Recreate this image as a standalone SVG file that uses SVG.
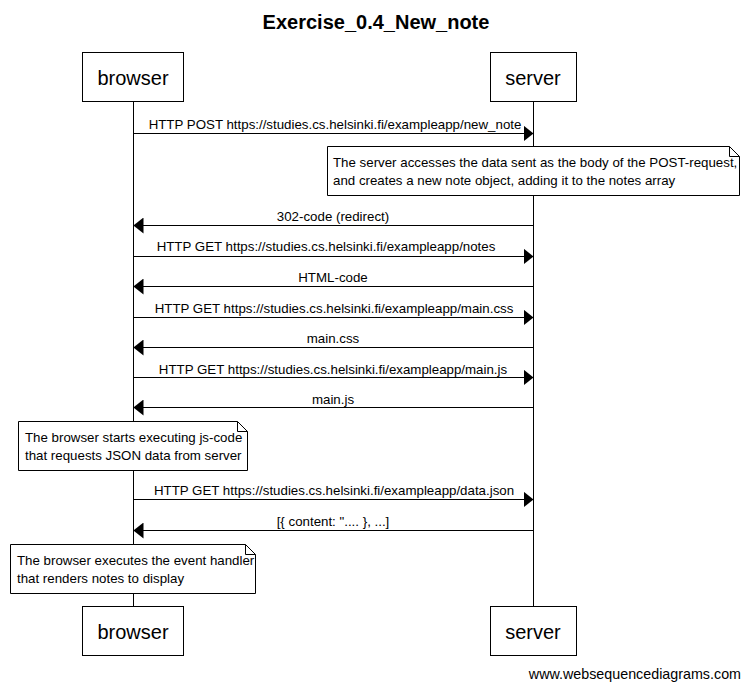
<svg xmlns="http://www.w3.org/2000/svg" width="749" height="689" viewBox="0 0 749 689">
<style>
text{font-family:"Liberation Sans",Arial,sans-serif;fill:#000}
.title{font-size:20px;font-weight:bold;text-anchor:middle}
.actor{font-size:20px;text-anchor:middle}
.lbl{font-size:13.3px;text-anchor:middle}
.note{font-size:13.3px}
.box{fill:#fff;stroke:#000;stroke-width:1}
.life{stroke:#000;stroke-width:1}
.msg{stroke:#000;stroke-width:1;fill:none}
.wm{font-size:14.3px;text-anchor:end}
</style>
<defs>
<marker id="ah" markerWidth="10" markerHeight="16" refX="10" refY="8" orient="auto" markerUnits="userSpaceOnUse">
<path d="M0,0 L10,8 L0,16 Z" fill="#000"/>
</marker>
</defs>
<rect width="749" height="689" fill="#fff"/>
<text class="title" x="376" y="29">Exercise_0.4_New_note</text>

<g id="lifelines">
<line class="life" x1="133.5" y1="102" x2="133.5" y2="606"/>
<line class="life" x1="533.5" y1="102" x2="533.5" y2="606"/>
</g>

<g id="browser-top"><rect class="box" x="82.5" y="52.5" width="101" height="49"/><text class="actor" x="133" y="85">browser</text></g>
<g id="server-top"><rect class="box" x="490.5" y="52.5" width="86" height="49"/><text class="actor" x="533" y="85">server</text></g>
<g id="browser-bottom"><rect class="box" x="82.5" y="606.5" width="101" height="49"/><text class="actor" x="133" y="639">browser</text></g>
<g id="server-bottom"><rect class="box" x="490.5" y="606.5" width="86" height="49"/><text class="actor" x="533" y="639">server</text></g>

<g id="connectors">
<line class="msg" x1="133.5" y1="133.5" x2="533.5" y2="133.5" marker-end="url(#ah)"/>
<text class="lbl" x="335" y="129">HTTP POST https://studies.cs.helsinki.fi/exampleapp/new_note</text>
<line class="msg" x1="533.5" y1="225.5" x2="133.5" y2="225.5" marker-end="url(#ah)"/>
<text class="lbl" x="333" y="221">302-code (redirect)</text>
<line class="msg" x1="133.5" y1="256.5" x2="533.5" y2="256.5" marker-end="url(#ah)"/>
<text class="lbl" x="326" y="251">HTTP GET https://studies.cs.helsinki.fi/exampleapp/notes</text>
<line class="msg" x1="533.5" y1="286.5" x2="133.5" y2="286.5" marker-end="url(#ah)"/>
<text class="lbl" x="333" y="282">HTML-code</text>
<line class="msg" x1="133.5" y1="317.5" x2="533.5" y2="317.5" marker-end="url(#ah)"/>
<text class="lbl" x="334" y="313">HTTP GET https://studies.cs.helsinki.fi/exampleapp/main.css</text>
<line class="msg" x1="533.5" y1="347.5" x2="133.5" y2="347.5" marker-end="url(#ah)"/>
<text class="lbl" x="333" y="343">main.css</text>
<line class="msg" x1="133.5" y1="377.5" x2="533.5" y2="377.5" marker-end="url(#ah)"/>
<text class="lbl" x="333" y="374">HTTP GET https://studies.cs.helsinki.fi/exampleapp/main.js</text>
<line class="msg" x1="533.5" y1="407.5" x2="133.5" y2="407.5" marker-end="url(#ah)"/>
<text class="lbl" x="333" y="404">main.js</text>
<line class="msg" x1="133.5" y1="499.5" x2="533.5" y2="499.5" marker-end="url(#ah)"/>
<text class="lbl" x="334" y="495">HTTP GET https://studies.cs.helsinki.fi/exampleapp/data.json</text>
<line class="msg" x1="533.5" y1="530.5" x2="133.5" y2="530.5" marker-end="url(#ah)"/>
<text class="lbl" x="333" y="526">[{ content: ".... }, ...]</text>
</g>

<g id="note-server">
<path class="box" d="M327.5,146.5 H729.5 L739.5,156.5 V195.5 H327.5 Z"/>
<path class="msg" d="M729.5,146.5 V156.5 H739.5"/>
<text class="note" x="333" y="167">The server accesses the data sent as the body of the POST-request,</text>
<text class="note" x="333" y="185">and creates a new note object, adding it to the notes array</text>
</g>

<g id="note-browser-1">
<path class="box" d="M18.5,421.5 H237.5 L247.5,431.5 V470.5 H18.5 Z"/>
<path class="msg" d="M237.5,421.5 V431.5 H247.5"/>
<text class="note" x="25" y="442">The browser starts executing js-code</text>
<text class="note" x="25" y="460">that requests JSON data from server</text>
</g>

<g id="note-browser-2">
<path class="box" d="M10.5,544.5 H245.5 L255.5,554.5 V593.5 H10.5 Z"/>
<path class="msg" d="M245.5,544.5 V554.5 H255.5"/>
<text class="note" x="17" y="565">The browser executes the event handler</text>
<text class="note" x="17" y="583">that renders notes to display</text>
</g>

<text class="wm" x="741" y="679">www.websequencediagrams.com</text>
</svg>
